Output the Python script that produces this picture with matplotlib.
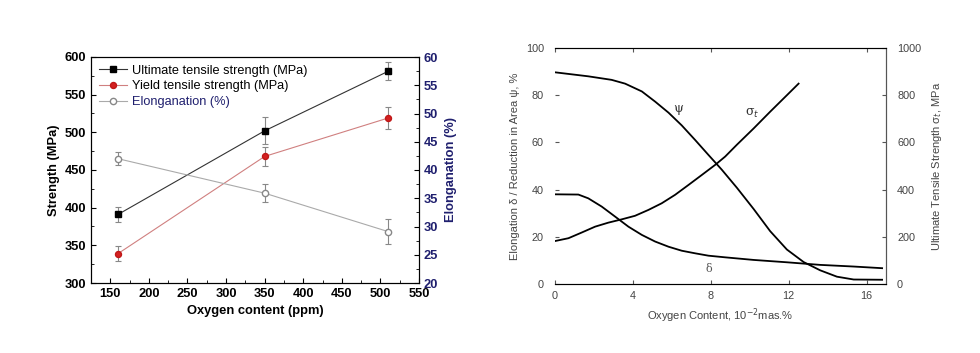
import matplotlib
matplotlib.use("Agg")
import matplotlib.pyplot as plt
from matplotlib.ticker import MultipleLocator
from matplotlib.lines import Line2D

# ---- Left chart data ----
oxygen_ppm = [160, 350, 510]
uts = [391, 502, 581]
uts_err = [10, 18, 12]
yts = [339, 468, 519]
yts_err = [9.5, 13, 15]
elong = [42.0, 35.9, 29.1]
elong_err = [1.1, 1.6, 2.2]
legend_labels = ["Ultimate tensile strength (MPa)", "Yield tensile strength (MPa)",
                 "Elonganation (%)"]

# ---- Right chart data ----
psi_x = [0, 1.71, 2.91, 3.6, 4.46, 5.14, 5.83, 6.51, 7.2, 7.88, 8.57, 9.34, 10.2,
         11.05, 11.91, 12.77, 13.62, 14.48, 15.34, 16.8]
psi_y = [89.7, 88.0, 86.5, 84.9, 81.6, 77.3, 72.6, 67.2, 61.0, 54.7, 48.4, 40.8, 31.8,
         22.4, 14.6, 9.3, 5.8, 3.1, 1.9, 1.8]
delta_x = [0, 1.2, 1.71, 2.4, 3.08, 3.77, 4.46, 5.14, 5.83, 6.51, 7.2, 7.88, 8.74,
           10.2, 11.91, 13.62, 15.34, 16.8]
delta_y = [38.0, 37.9, 36.3, 32.8, 28.6, 24.3, 20.8, 18.0, 15.8, 14.1, 13.0, 12.0, 11.3,
           10.2, 9.2, 8.1, 7.4, 6.7]
sigma_x = [0, 0.69, 1.37, 2.06, 2.74, 3.43, 4.11, 4.8, 5.48, 6.17, 6.86, 7.54, 8.23,
           8.74, 9.34, 10.2, 11.05, 11.91, 12.51]
sigma_y = [182, 194, 218, 243, 260, 274, 289, 314, 342, 378, 420, 462, 505,
           540, 590, 659, 730, 800, 849]

navy = "#1f1f6e"
plt.rcParams["font.family"] = ["Liberation Sans", "DejaVu Sans"]

fig = plt.figure(figsize=(9.8, 3.53), dpi=100)

# ================= Left chart =================
uts_style = dict(color="#333333", lw=0.8, marker="s", ms=4, mfc="black", mec="black")
yts_style = dict(color="#d08080", lw=0.8, marker="o", ms=4.3, mfc="#d42020", mec="#c01818")
el_style = dict(color="#aaaaaa", lw=0.8, marker="o", ms=4.5, mfc="white", mec="#888888")
err_kw = dict(ecolor="#888888", elinewidth=0.8, capsize=2.5, capthick=0.8, zorder=3)

ax = fig.add_axes([91/980, 1-283/353, (419-91)/980, (283-57)/353])
ax.errorbar(oxygen_ppm, uts, yerr=uts_err, fmt="-", **uts_style, **err_kw)
ax.errorbar(oxygen_ppm, yts, yerr=yts_err, fmt="-", **yts_style, **err_kw)
ax.set_xlim(125, 550)
ax.set_ylim(300, 600)
ax.xaxis.set_major_locator(MultipleLocator(50))
ax.xaxis.set_minor_locator(MultipleLocator(25))
ax.yaxis.set_major_locator(MultipleLocator(50))
ax.yaxis.set_minor_locator(MultipleLocator(25))
ax.tick_params(which="both", direction="in", top=False, right=False)
ax.tick_params(which="major", length=3.5, labelsize=9.3)
ax.tick_params(which="minor", length=2)
for lab in ax.get_xticklabels() + ax.get_yticklabels():
    lab.set_fontweight("bold")
ax.set_xlabel("Oxygen content (ppm)", fontsize=9.3, fontweight="bold", labelpad=4)
ax.set_ylabel("Strength (MPa)", fontsize=9.3, fontweight="bold", labelpad=3)

ax2 = ax.twinx()
ax2.errorbar(oxygen_ppm, elong, yerr=elong_err, fmt="-", **el_style, **err_kw)
ax2.set_ylim(20, 60)
ax2.yaxis.set_major_locator(MultipleLocator(5))
ax2.yaxis.set_minor_locator(MultipleLocator(2.5))
ax2.tick_params(which="both", direction="in", colors="black", labelcolor=navy)
ax2.tick_params(which="major", length=3.5, labelsize=9.3)
ax2.tick_params(which="minor", length=2)
for lab in ax2.get_yticklabels():
    lab.set_fontweight("bold")
ax2.set_ylabel("Elonganation (%)", fontsize=9.3, fontweight="bold", color=navy, labelpad=5)

handles = [Line2D([], [], **uts_style), Line2D([], [], **yts_style),
           Line2D([], [], **el_style)]
leg = ax.legend(handles, legend_labels, loc="upper left", frameon=False, fontsize=9.2,
                handlelength=2.2, borderaxespad=0.2, labelspacing=0.3,
                handletextpad=0.4, borderpad=0.4)
leg.get_texts()[2].set_color(navy)

# ================= Right chart =================
gray = "#444444"
bx = fig.add_axes([555/980, 1-284/353, (886-555)/980, (284-48)/353])
bx.plot(psi_x, psi_y, color="black", lw=1.3)
bx.plot(delta_x, delta_y, color="black", lw=1.3)
bx.set_xlim(0, 17)
bx.set_ylim(0, 100)
bx.spines["left"].set_visible(False)
for s in ["top", "bottom", "right"]:
    bx.spines[s].set_color("#555555")
    bx.spines[s].set_linewidth(0.8)
bx.xaxis.set_major_locator(MultipleLocator(4))
bx.yaxis.set_major_locator(MultipleLocator(20))
bx.tick_params(direction="in", length=3, color="#555555", labelsize=7.8,
               labelcolor=gray, top=True)
bx.tick_params(axis="y", pad=8)
bx.tick_params(axis="x", pad=5)
bx.set_xlabel("Oxygen Content, 10$^{-2}$mas.%", fontsize=8, color=gray, labelpad=4)
bx.set_ylabel("Elongation \u03b4 / Reduction in Area \u03c8, %", fontsize=8, color=gray, labelpad=4)
bx.text(6.34, 74.5, "\u03c8", fontsize=9, color="#333333", ha="center", va="center",
        family="DejaVu Serif")
bx.text(7.92, 6.2, "\u03b4", fontsize=8, color="#555555", ha="center", va="center",
        family="DejaVu Serif")
bx.text(10.11, 72.4, "\u03c3$_{t}$", fontsize=9, color="#333333", ha="center", va="center",
        family="DejaVu Serif")

bx2 = bx.twinx()
bx2.plot(sigma_x, sigma_y, color="black", lw=1.3)
bx2.set_ylim(0, 1000)
bx2.spines["left"].set_visible(False)
bx2.spines["right"].set_color("#555555")
bx2.yaxis.set_major_locator(MultipleLocator(200))
bx2.tick_params(direction="in", length=3, color="#555555", labelsize=7.8,
                labelcolor=gray, pad=8)
bx2.set_ylabel("Ultimate Tensile Strength \u03c3$_{t}$, MPa", fontsize=8, color=gray, labelpad=6)

fig.savefig("out.png", dpi=100)
